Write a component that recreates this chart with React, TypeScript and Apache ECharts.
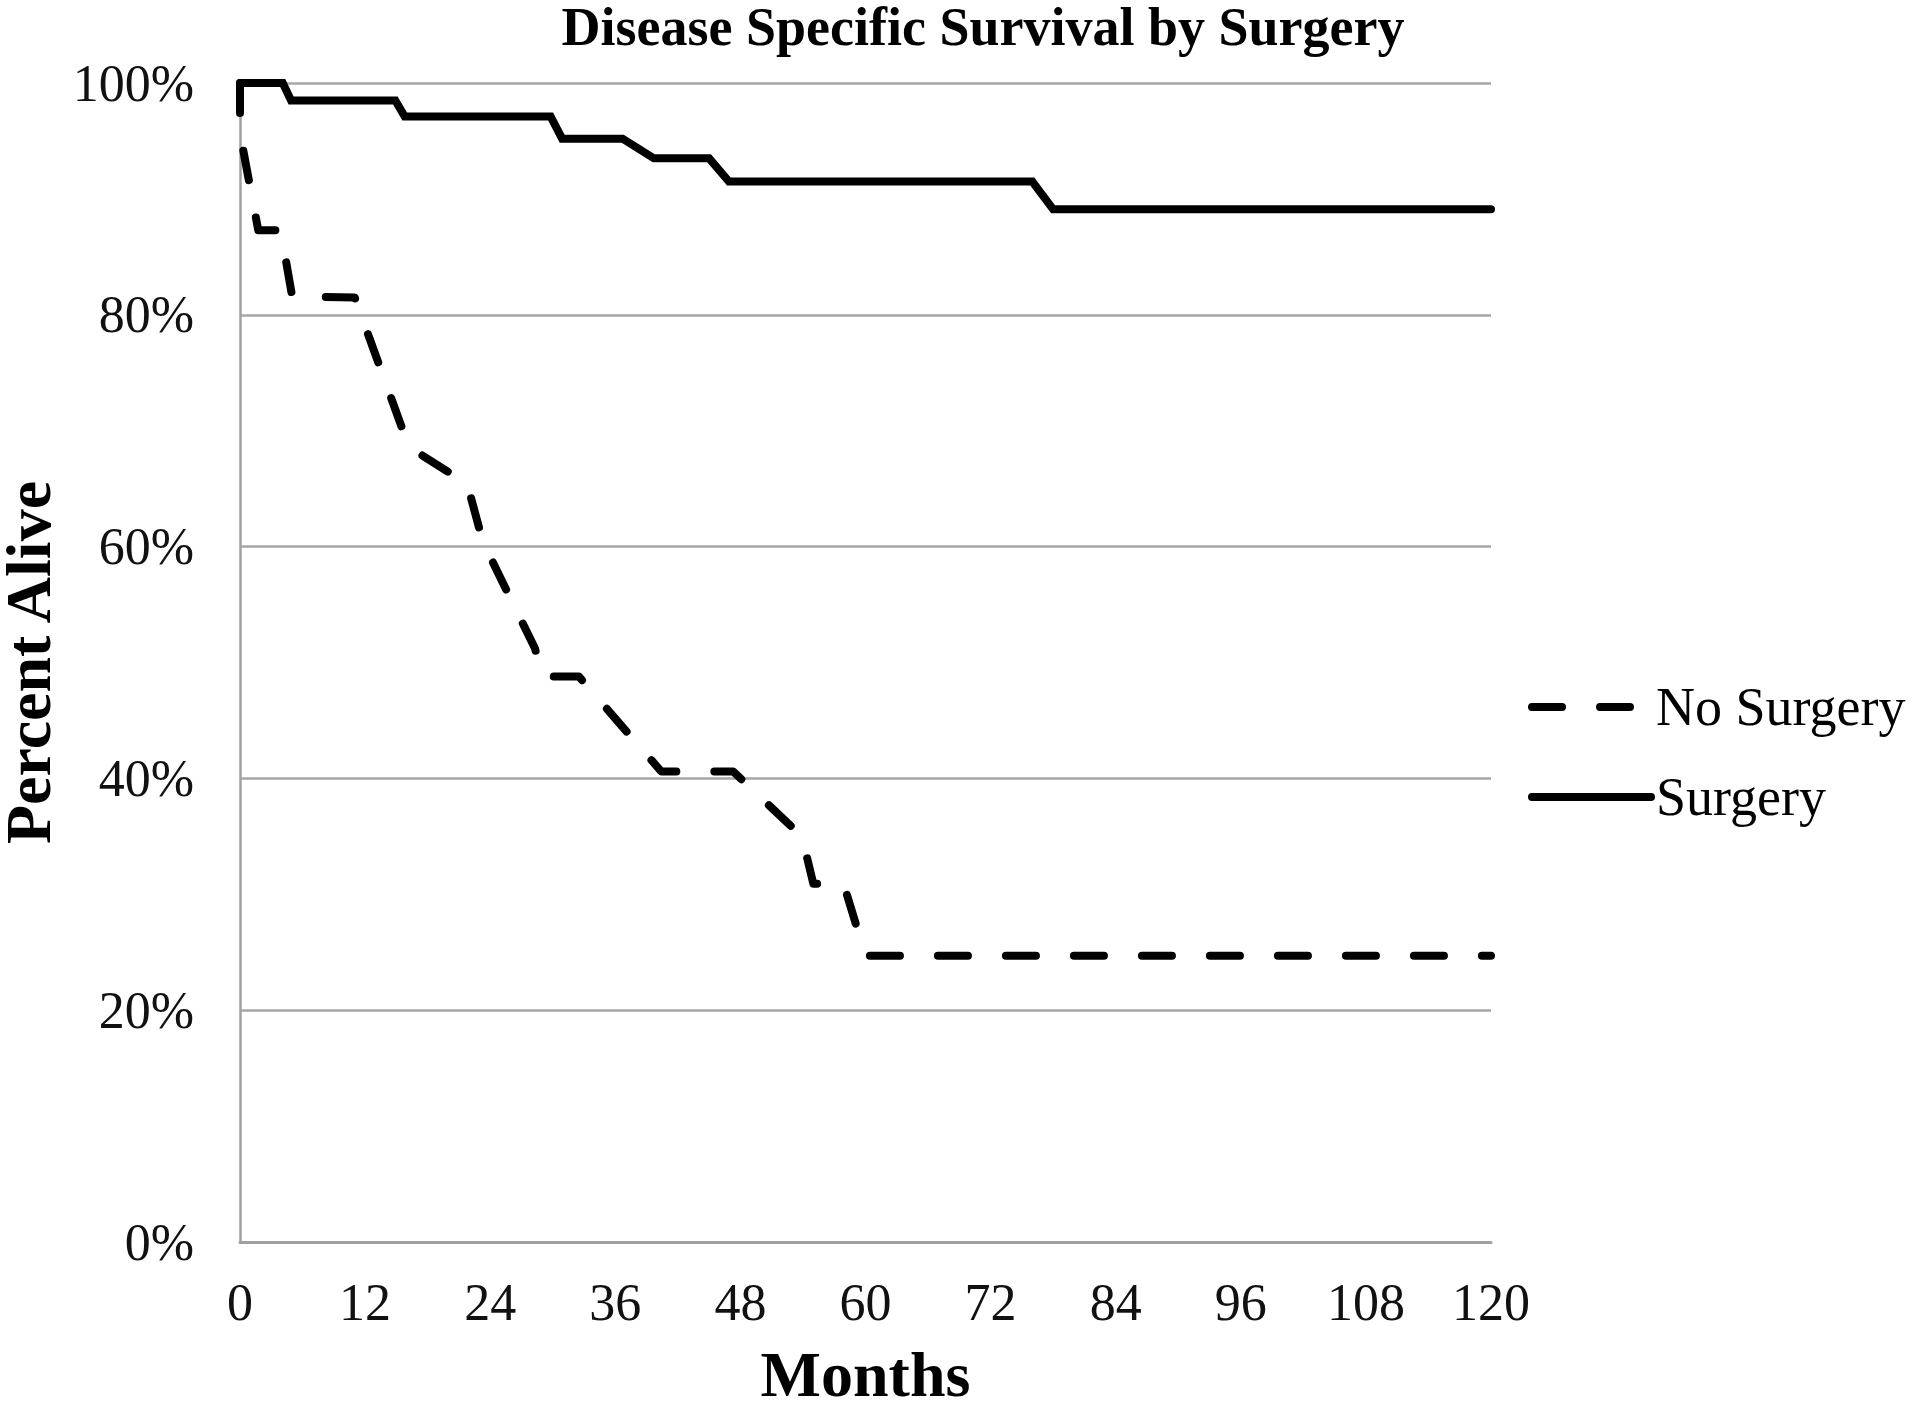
import React, { useEffect, useRef } from "react";
import * as echarts from "echarts";

const titleText = "Disease Specific Survival by Surgery";
const xAxisName = "Months";
const yAxisName = "Percent Alive";
const seriesNames = ["No Surgery", "Surgery"];

// [months, percent alive]
const noSurgery: [number, number][] = [
  [0, 100], [0, 95.7], [1.75, 87.3], [3.9, 87.3], [5.0, 81.6], [11.0, 81.5],
  [16.2, 68.6], [21.8, 65.4], [23.3, 60.4], [28.3, 51.2], [29.0, 48.8],
  [32.5, 48.8], [40.4, 40.6], [47.3, 40.6], [53.9, 35.0], [55.0, 30.9],
  [57.9, 30.9], [60.0, 24.7], [120, 24.7],
];
const surgery: [number, number][] = [
  [0, 100], [4.1, 100], [4.9, 98.5], [14.9, 98.5], [15.8, 97.1], [29.8, 97.1],
  [30.9, 95.2], [36.7, 95.2], [39.7, 93.5], [45.0, 93.5], [46.9, 91.5],
  [76.0, 91.5], [78.0, 89.1], [120, 89.1],
];

const FONT = "'Liberation Serif', 'Times New Roman', serif";

export default function App() {
  const ref = useRef<HTMLDivElement>(null);
  useEffect(() => {
    if (!ref.current) return;
    const chart = echarts.init(ref.current, undefined, { renderer: "svg" });
    chart.setOption({
      animation: false,
      backgroundColor: "#ffffff",
      title: {
        text: titleText,
        left: 983,
        top: 5,
        padding: 0,
        textAlign: "center",
        textStyle: { fontFamily: FONT, fontSize: 54, fontWeight: "bold", color: "#000", lineHeight: 44 },
      },
      legend: {
        data: seriesNames,
        orient: "vertical",
        left: 1523,
        top: 675,
        itemWidth: 119,
        itemHeight: 8,
        itemGap: 36,
        lineStyle: { width: 8, cap: "round" },
        itemStyle: { opacity: 0 },
        textStyle: { fontFamily: FONT, fontSize: 54, color: "#000", lineHeight: 52 },
      },
      grid: { left: 240, right: 419, top: 83, bottom: 162, outerBoundsMode: "none", containLabel: false },
      xAxis: {
        type: "value",
        min: 0,
        max: 120,
        interval: 12,
        name: xAxisName,
        nameLocation: "middle",
        nameGap: 110,
        nameTextStyle: { fontFamily: FONT, fontSize: 64, fontWeight: "bold", color: "#000", lineHeight: 44 },
        axisLine: { show: true, lineStyle: { color: "#a0a0a0", width: 3 } },
        axisTick: { show: false },
        splitLine: { show: false },
        axisLabel: { fontFamily: FONT, fontSize: 52, color: "#111", margin: 34 },
      },
      yAxis: {
        type: "value",
        min: 0,
        max: 100,
        interval: 20,
        name: yAxisName,
        nameLocation: "middle",
        nameGap: 190,
        nameRotate: 90,
        nameTextStyle: { fontFamily: FONT, fontSize: 64, fontWeight: "bold", color: "#000", lineHeight: 44 },
        axisLine: { show: true, lineStyle: { color: "#a0a0a0", width: 2.5 } },
        axisTick: { show: false },
        splitLine: { show: true, lineStyle: { color: "#a6a6a6", width: 2.5 } },
        axisLabel: { fontFamily: FONT, fontSize: 52, color: "#111", margin: 46, formatter: "{value}%" },
      },
      series: [
        {
          name: seriesNames[0],
          type: "line",
          data: noSurgery,
          symbol: "none",
          lineStyle: { color: "#000", width: 8, type: [30, 38], cap: "round", join: "round" },
          itemStyle: { color: "#000" },
          z: 3,
        },
        {
          name: seriesNames[1],
          type: "line",
          data: surgery,
          symbol: "none",
          lineStyle: { color: "#000", width: 8, type: "solid", cap: "round", join: "miter" },
          itemStyle: { color: "#000" },
          z: 3,
        },
      ],
    });
    return () => chart.dispose();
  }, []);
  return (
    <div
      ref={ref}
      style={{ position: "fixed", left: 0, top: 0, width: 1910, height: 1404, background: "#fff" }}
    />
  );
}
